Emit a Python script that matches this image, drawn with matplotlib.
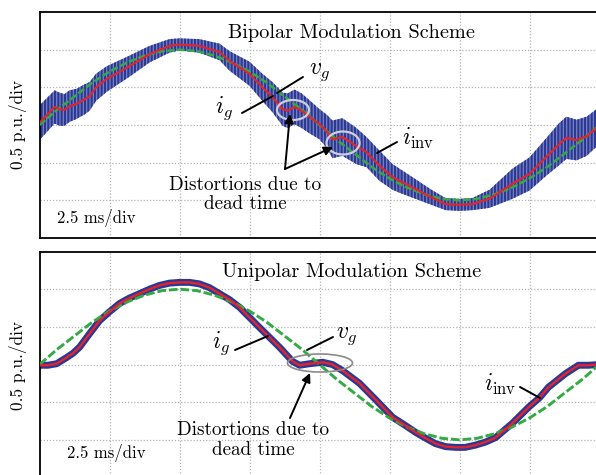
import numpy as np
import matplotlib
matplotlib.use('Agg')
import matplotlib.pyplot as plt
from matplotlib.patches import Ellipse, FancyArrowPatch

# grid voltage v_g (p.u.), read every 0.625 ms over one 20 ms period
vg_t = [0.625 * k for k in range(33)]
vg = [0.0, 0.20, 0.38, 0.56, 0.71, 0.83, 0.92, 0.98, 1.00, 0.98, 0.92, 0.83, 0.71, 0.56, 0.38, 0.20,
      0.0, -0.20, -0.38, -0.56, -0.71, -0.83, -0.92, -0.98, -1.00, -0.98, -0.92, -0.83, -0.71, -0.56,
      -0.38, -0.20, 0.0]

# bipolar: grid current i_g and ripple half-width of i_inv
top_t = [0, 0.54, 0.71, 0.89, 1.07, 1.32, 1.61, 1.79, 2.02, 2.4, 3.21, 3.93, 4.64, 5.0, 5.71, 6.43,
         6.79, 7.5, 7.96, 8.32, 8.68, 8.86, 9.11, 9.36, 9.64, 10.0, 10.25, 10.46, 10.82, 11.32, 11.68,
         12.14, 12.61, 12.86, 13.43, 14.0, 14.5, 15.0, 15.46, 16.07, 16.89, 17.5, 18.11, 18.57, 18.82,
         19.18, 19.54, 19.86, 20]
top_ig = [0.03, 0.24, 0.21, 0.20, 0.25, 0.28, 0.34, 0.38, 0.50, 0.61, 0.78, 0.94, 1.05, 1.07, 1.05, 0.97,
          0.85, 0.68, 0.50, 0.37, 0.21, 0.19, 0.24, 0.19, 0.11, 0.01, -0.08, -0.19, -0.16, -0.28, -0.36,
          -0.54, -0.69, -0.74, -0.85, -0.96, -1.05, -1.06, -1.05, -0.98, -0.78, -0.65, -0.42, -0.25, -0.17,
          -0.20, -0.15, -0.05, -0.01]
top_ripple = [0.23, 0.22, 0.22, 0.21, 0.21, 0.20, 0.20, 0.19, 0.18, 0.17, 0.14, 0.11, 0.09, 0.08, 0.09, 0.11,
              0.13, 0.16, 0.18, 0.20, 0.22, 0.23, 0.23, 0.23, 0.22, 0.20, 0.22, 0.25, 0.25, 0.24, 0.20,
              0.20, 0.17, 0.16, 0.13, 0.10, 0.08, 0.08, 0.08, 0.12, 0.20, 0.22, 0.25, 0.28, 0.28,
              0.27, 0.26, 0.25, 0.25]

# unipolar: grid current i_g (i_inv lies on top of it)
bot_t = [0, 0.3, 0.61, 0.96, 1.2, 1.43, 1.79, 2.14, 2.5, 2.86, 3.2, 3.57, 3.93, 4.29, 4.64, 5.0, 5.36,
         5.71, 6.07, 6.43, 6.79, 7.14, 7.86, 8.57, 9.04, 9.29, 9.64, 10.11, 10.46, 10.82, 11.43, 12.04,
         12.61, 13.07, 13.43, 13.8, 14.14, 14.5, 14.86, 15.2, 15.57, 15.93, 16.29, 16.89, 17.46, 17.86,
         18.18, 18.79, 19.25, 19.61, 20]
bot_ig = [-0.01, -0.01, 0.01, 0.09, 0.15, 0.23, 0.41, 0.58, 0.70, 0.81, 0.88, 0.94, 1.00, 1.05, 1.08,
          1.09, 1.09, 1.07, 1.02, 0.94, 0.86, 0.76, 0.49, 0.23, 0.04, -0.01, 0.01, 0.03, 0.0, -0.08,
          -0.25, -0.48, -0.70, -0.81, -0.90, -0.98, -1.05, -1.09, -1.10, -1.10, -1.07, -1.03, -0.97, -0.78,
          -0.57, -0.44, -0.30, -0.12, -0.01, -0.01, 0.0]

plt.rcParams['mathtext.fontset'] = 'cm'
plt.rcParams['hatch.linewidth'] = 1.5

W, H = 596, 475
RED = '#e5232b'
GREEN = '#33aa44'
BLUE = '#2b3894'

fig = plt.figure(figsize=(5.96, 4.75), dpi=100)
ax1 = fig.add_axes([39.5 / W, 1 - 238 / H, 560 / W, 226 / H])
ax2 = fig.add_axes([39.5 / W, 1 - 477.5 / H, 560 / W, 226 / H])

for ax in (ax1, ax2):
    ax.set_xlim(0, 20)
    ax.set_ylim(-1.5, 1.5)
    ax.set_xticks(np.arange(2.5, 20, 2.5))
    ax.set_yticks([-1, -0.5, 0, 0.5, 1])
    ax.tick_params(length=0, labelbottom=False, labelleft=False)
    ax.grid(True, color='#b4b4b4', linestyle=(0, (1, 1.5)), linewidth=0.9)
    for s in ax.spines.values():
        s.set_linewidth(1.3)

t1 = np.array(top_t)
ig1 = np.array(top_ig)
rp1 = np.array(top_ripple)
ax1.fill_between(t1, ig1 - rp1, ig1 + rp1, facecolor='#7781c2', edgecolor=BLUE,
                 hatch='|||||', linewidth=0, zorder=2)
ax1.plot(vg_t, vg, color=GREEN, lw=1.8, linestyle=(0, (3, 1)), zorder=3)
ax1.plot(top_t, top_ig, color=RED, lw=1.5, zorder=4)

ax2.plot(bot_t, bot_ig, color=BLUE, lw=5, solid_capstyle='round', solid_joinstyle='round', zorder=2)
ax2.plot(vg_t, vg, color=GREEN, lw=2.1, linestyle=(0, (3, 1)), zorder=3)
ax2.plot(bot_t, bot_ig, color=RED, lw=1.7, solid_joinstyle='round', zorder=4)


def topd(x, y):
    return ((x - 39.5) / 28.0, (125.0 - y) / 75.33)


def botd(x, y):
    return ((x - 39.5) / 28.0, (364.5 - y) / 75.33)


for (cx, cy, w, h) in [(293, 110, 32, 20), (343, 143, 33, 23)]:
    ax1.add_patch(Ellipse(topd(cx, cy), w / 28.0, h / 75.33, fill=False,
                          edgecolor='#cdd0dc', lw=1.6, zorder=5))
ax2.add_patch(Ellipse(botd(320, 363), 65 / 28.0, 18 / 75.33, fill=False,
                      edgecolor='#8a8a8a', lw=1.2, zorder=5))


def line(a, b, arrow=False):
    fig.add_artist(FancyArrowPatch((a[0], H - a[1]), (b[0], H - b[1]), transform=None,
                                   arrowstyle='-|>' if arrow else '-', lw=1.4, color='black',
                                   shrinkA=0, shrinkB=0, mutation_scale=13))


def txt(x, y, s, size, family='cmr10', **kw):
    fig.text(x / W, 1 - y / H, s, fontsize=size, family=family,
             ha=kw.pop('ha', 'center'), va=kw.pop('va', 'center'), **kw)


# titles and scale labels
txt(352, 33, 'Bipolar Modulation Scheme', 14.6)
txt(352, 272, 'Unipolar Modulation Scheme', 14.6)
txt(18, 125, '0.5 p.u./div', 12.5, rotation=90)
txt(18, 365, '0.5 p.u./div', 12.5, rotation=90)
txt(57, 218, '2.5 ms/div', 12, ha='left')
txt(67, 453, '2.5 ms/div', 12, ha='left')

# bipolar annotations
txt(224, 108, r'$i_g$', 17)
txt(320, 72, r'$v_g$', 17)
txt(418, 138, r'$i_{\mathrm{inv}}$', 17)
line((242, 113), (273, 96))
line((303, 77), (277, 93))
line((377, 153), (397, 142))
txt(245, 185, 'Distortions due to', 13.8)
txt(245, 204, 'dead time', 13.8)
line((285, 169), (290, 114), arrow=True)
line((285, 169), (333, 147), arrow=True)

# unipolar annotations
txt(221, 343, r'$i_g$', 17)
txt(347, 336, r'$v_g$', 17)
txt(500, 384, r'$i_{\mathrm{inv}}$', 17)
line((235, 350), (268, 336))
line((333, 337), (307, 350))
line((520, 387), (540, 398))
txt(253, 430, 'Distortions due to', 13.8)
txt(253, 450, 'dead time', 13.8)
line((290, 418), (310, 373), arrow=True)

fig.savefig('out.png', dpi=100)
